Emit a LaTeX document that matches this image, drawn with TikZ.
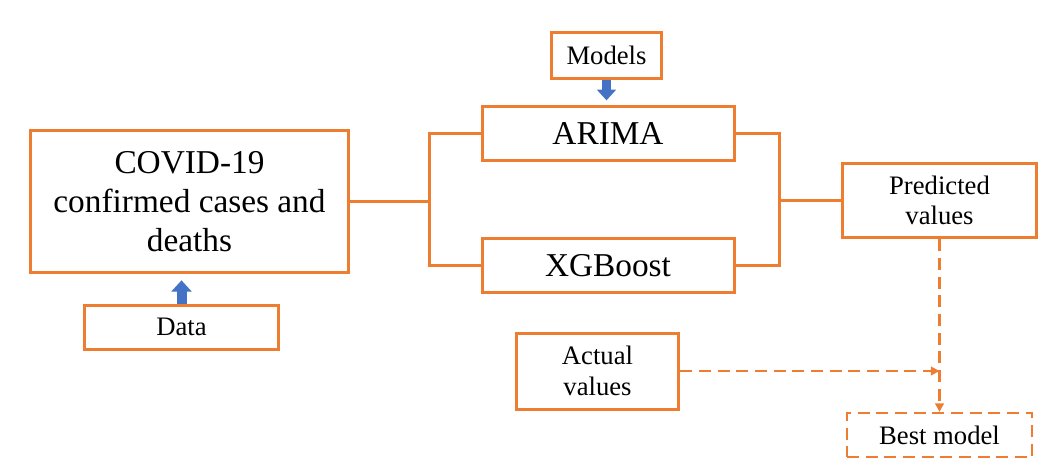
\documentclass[tikz,border=0pt]{standalone}
\usepackage{fontspec}
\setmainfont{Liberation Serif}
\usetikzlibrary{arrows.meta}
\definecolor{boxorange}{HTML}{ED7D31}
\definecolor{blockblue}{HTML}{4472C4}
\tikzset{
  box/.style={draw=boxorange, line width=2.25pt, inner sep=0pt, align=center},
  bigtext/.style={font=\fontsize{25}{29}\selectfont},
  smalltext/.style={font=\fontsize{20}{23}\selectfont},
  link/.style={draw=boxorange, line width=2.25pt},
  dashlink/.style={draw=boxorange, line width=1.6pt, dash pattern=on 9pt off 5pt},
  dashtip/.style={-{Triangle[width=6.5pt,length=6.5pt]}},
  blockarrow/.style={draw=blockblue, -{Triangle[width=14pt,length=8pt]}}
}
\begin{document}
\begin{tikzpicture}[x=0.75pt,y=-0.75pt]
              \useasboundingbox (0,0) rectangle (1056,469);

              \node[box,bigtext,minimum width=239pt,minimum height=106pt] (covid) at (189.5,201.5) {COVID-19\\confirmed cases and\\deaths};
              \node[box,smalltext,minimum width=145pt,minimum height=33pt] (data) at (181.5,327) {Data};
              \node[box,smalltext,minimum width=83pt,minimum height=34pt] (models) at (606.5,55.5) {Models};
              \node[box,bigtext,minimum width=189pt,minimum height=40pt] (arima) at (608,133.5) {ARIMA};
              \node[box,bigtext,minimum width=189pt,minimum height=41pt] (xgb) at (608,265.5) {XGBoost};
              \node[box,smalltext,minimum width=146pt,minimum height=56pt] (pred) at (939.5,200.5) {Predicted\\values};
              \node[box,smalltext,minimum width=122pt,minimum height=57pt] (actual) at (597.5,371) {Actual\\values};
              \node[box,smalltext,dash pattern=on 9pt off 5pt,line width=1.6pt,minimum width=139pt,minimum height=33pt] (best) at (939.5,435) {Best model};

              \coordinate (lj) at (429,201.5);
              \coordinate (rj) at (779,200.5);
              \draw[link] (covid.east) -- (lj);
              \draw[link] (arima.west) -| (lj) |- (xgb.west);
              \draw[link] (arima.east) -| (rj) |- (xgb.east);
              \draw[link] (rj) -- (pred.west);

              \draw[blockarrow,line width=6.75pt,shorten >=3.75pt,-{Triangle[width=14pt,length=8pt]}] (models.south) -- (models.south |- arima.north);
              \draw[blockarrow,line width=7.5pt,shorten >=5pt,-{Triangle[width=15pt,length=8.5pt]}] (data.north) -- (data.north |- covid.south);

              \draw[dashlink,dashtip] (actual.east) -- (actual.east -| pred.south);
              \draw[dashlink,dashtip] (pred.south) -- (best.north);
             \end{tikzpicture}
\end{document}
